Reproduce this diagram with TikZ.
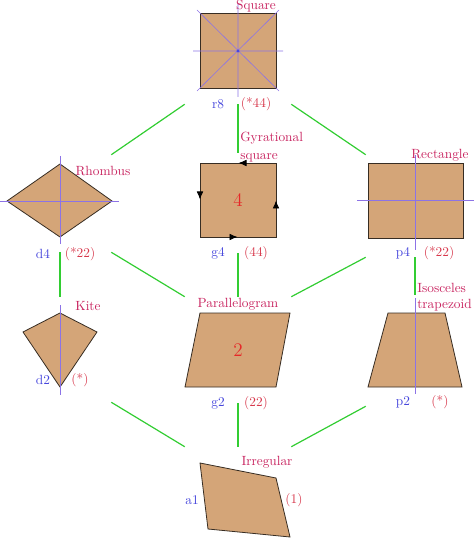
\documentclass[tikz,border=0pt]{standalone}
\usepackage{tikz}
\usetikzlibrary{arrows.meta,decorations.markings}
\definecolor{quadfill}{RGB}{212,165,120}
\definecolor{quadedge}{RGB}{55,45,35}
\definecolor{symline}{RGB}{140,115,230}
\definecolor{linkgreen}{RGB}{50,205,50}
\definecolor{namecol}{RGB}{200,35,95}
\definecolor{ordcol}{RGB}{215,55,75}
\definecolor{tagcol}{RGB}{70,70,220}
\definecolor{numcol}{RGB}{230,40,40}
\tikzset{
    quad/.style={fill=quadfill,draw=quadedge,line width=0.6pt,line join=miter},
    mirror/.style={draw=symline,line width=0.45pt},
    link/.style={draw=linkgreen,line width=0.9pt},
    slot/.style={rectangle,inner sep=0pt},
    namelabel/.style={text=namecol,inner sep=0pt},
    taglabel/.style={text=tagcol,inner sep=0pt},
    ordlabel/.style={text=ordcol,inner sep=0pt},
    numlabel/.style={text=numcol,inner sep=0pt,font=\Large},
    gyre/.style={postaction={decorate},decoration={markings,
        mark=between positions 0.125 and 1 step 0.25 with {\arrow[black]{Latex[length=6pt,width=5pt]}}}}
}
\begin{document}
\begin{tikzpicture}[x=0.75pt,y=-0.75pt]
				\useasboundingbox (0,0) rectangle (474,538);
				
				\node[slot,minimum width=79.5pt,minimum height=79.5pt] (r8) at (238,51) {};
				\node[slot,minimum width=76.5pt,minimum height=72.75pt] (d4) at (60,203.5) {};
				\node[slot,minimum width=79.5pt,minimum height=75pt] (g4) at (238,203) {};
				\node[slot,minimum width=73.5pt,minimum height=76.5pt] (p4) at (415,206) {};
				\node[slot,minimum width=76.5pt,minimum height=78.75pt] (d2) at (60,349.5) {};
				\node[slot,minimum width=79.5pt,minimum height=79.5pt] (g2) at (238,350) {};
				\node[slot,minimum width=73.5pt,minimum height=83.25pt] (p2) at (415,350.5) {};
				\node[slot,minimum width=79.5pt,minimum height=79.5pt] (a1) at (238,500) {};
				
				\draw[quad] (200,13) rectangle (276,88);
				\draw[mirror] (193,51) -- (283,51) (238,4) -- (238,97)
					(197,10) -- (279,91) (197,91) -- (279,10);
				\fill[tagcol] (238,51) circle (1.2pt);
				
				\draw[quad] (60,164) -- (112,201) -- (60,237) -- (7,201) -- cycle;
				\draw[mirror] (0,201) -- (119,201) (60,156) -- (60,244);
				
				\draw[quad,gyre] (276,163) -- (200,163) -- (200,237) -- (276,237) -- cycle;
				
				\draw[quad] (368,163) rectangle (463,238);
				\draw[mirror] (357,200) -- (474,200) (415,155) -- (415,250);
				
				\draw[quad] (60,313) -- (97,332) -- (60,387) -- (23,332) -- cycle;
				\draw[mirror] (60,305) -- (60,395);
				
				\draw[quad] (200,313) -- (290,313) -- (276,387) -- (185,387) -- cycle;
				
				\draw[quad] (388,313) -- (445,313) -- (462,387) -- (368,387) -- cycle;
				\draw[mirror] (415,298) -- (415,394);
				
				\draw[quad] (200,463) -- (276,478) -- (290,537) -- (208,529) -- cycle;
				
				\node[namelabel] (r8name) at (256,6) {Square};
				\node[taglabel] (r8tag) at (218,104) {r8};
				\node[ordlabel] (r8ord) at (256,104) {(*44)};
				
				\node[namelabel] (d4name) at (103,171) {Rhombus};
				\node[taglabel] (d4tag) at (43,254) {d4};
				\node[ordlabel] (d4ord) at (80,254) {(*22)};
				
				\node[namelabel,align=left,anchor=north west] (g4name) at (240,131.5) {Gyrational\\[2pt]square};
				\node[numlabel] (g4num) at (238,200) {4};
				\node[taglabel] (g4tag) at (218,253) {g4};
				\node[ordlabel] (g4ord) at (256,253) {(44)};
				
				\node[namelabel] (p4name) at (440,155) {Rectangle};
				\node[taglabel] (p4tag) at (403,253) {p4};
				\node[ordlabel] (p4ord) at (439,253) {(*22)};
				
				\node[namelabel] (d2name) at (88,306) {Kite};
				\node[taglabel] (d2tag) at (43,380) {d2};
				\node[ordlabel] (d2ord) at (80,380) {(*)};
				
				\node[namelabel] (g2name) at (238,304) {Parallelogram};
				\node[numlabel] (g2num) at (238,350) {2};
				\node[taglabel] (g2tag) at (218,403) {g2};
				\node[ordlabel] (g2ord) at (256,403) {(22)};
				
				\node[namelabel,align=left,anchor=north west] (p2name) at (417,283) {Isosceles\\trapezoid};
				\node[taglabel] (p2tag) at (403,402) {p2};
				\node[ordlabel] (p2ord) at (440,402) {(*)};
				
				\node[namelabel] (a1name) at (267,462) {Irregular};
				\node[taglabel] (a1tag) at (192,500) {a1};
				\node[ordlabel] (a1ord) at (294,500) {(1)};
				
				\path[link]
				(r8.south west) edge (d4.north east)
				(r8.south) edge (g4.north)
				(r8.south east) edge (p4.north west)
				(d4.south) edge (d2.north)
				(d4.south east) edge (g2.north west)
				(g4.south) edge (g2.north)
				(p4.south west) edge (g2.north east)
				(p4.south) edge (p2.north)
				(d2.south east) edge (a1.north west)
				(g2.south) edge (a1.north)
				(p2.south west) edge (a1.north east);
\end{tikzpicture}
\end{document}
